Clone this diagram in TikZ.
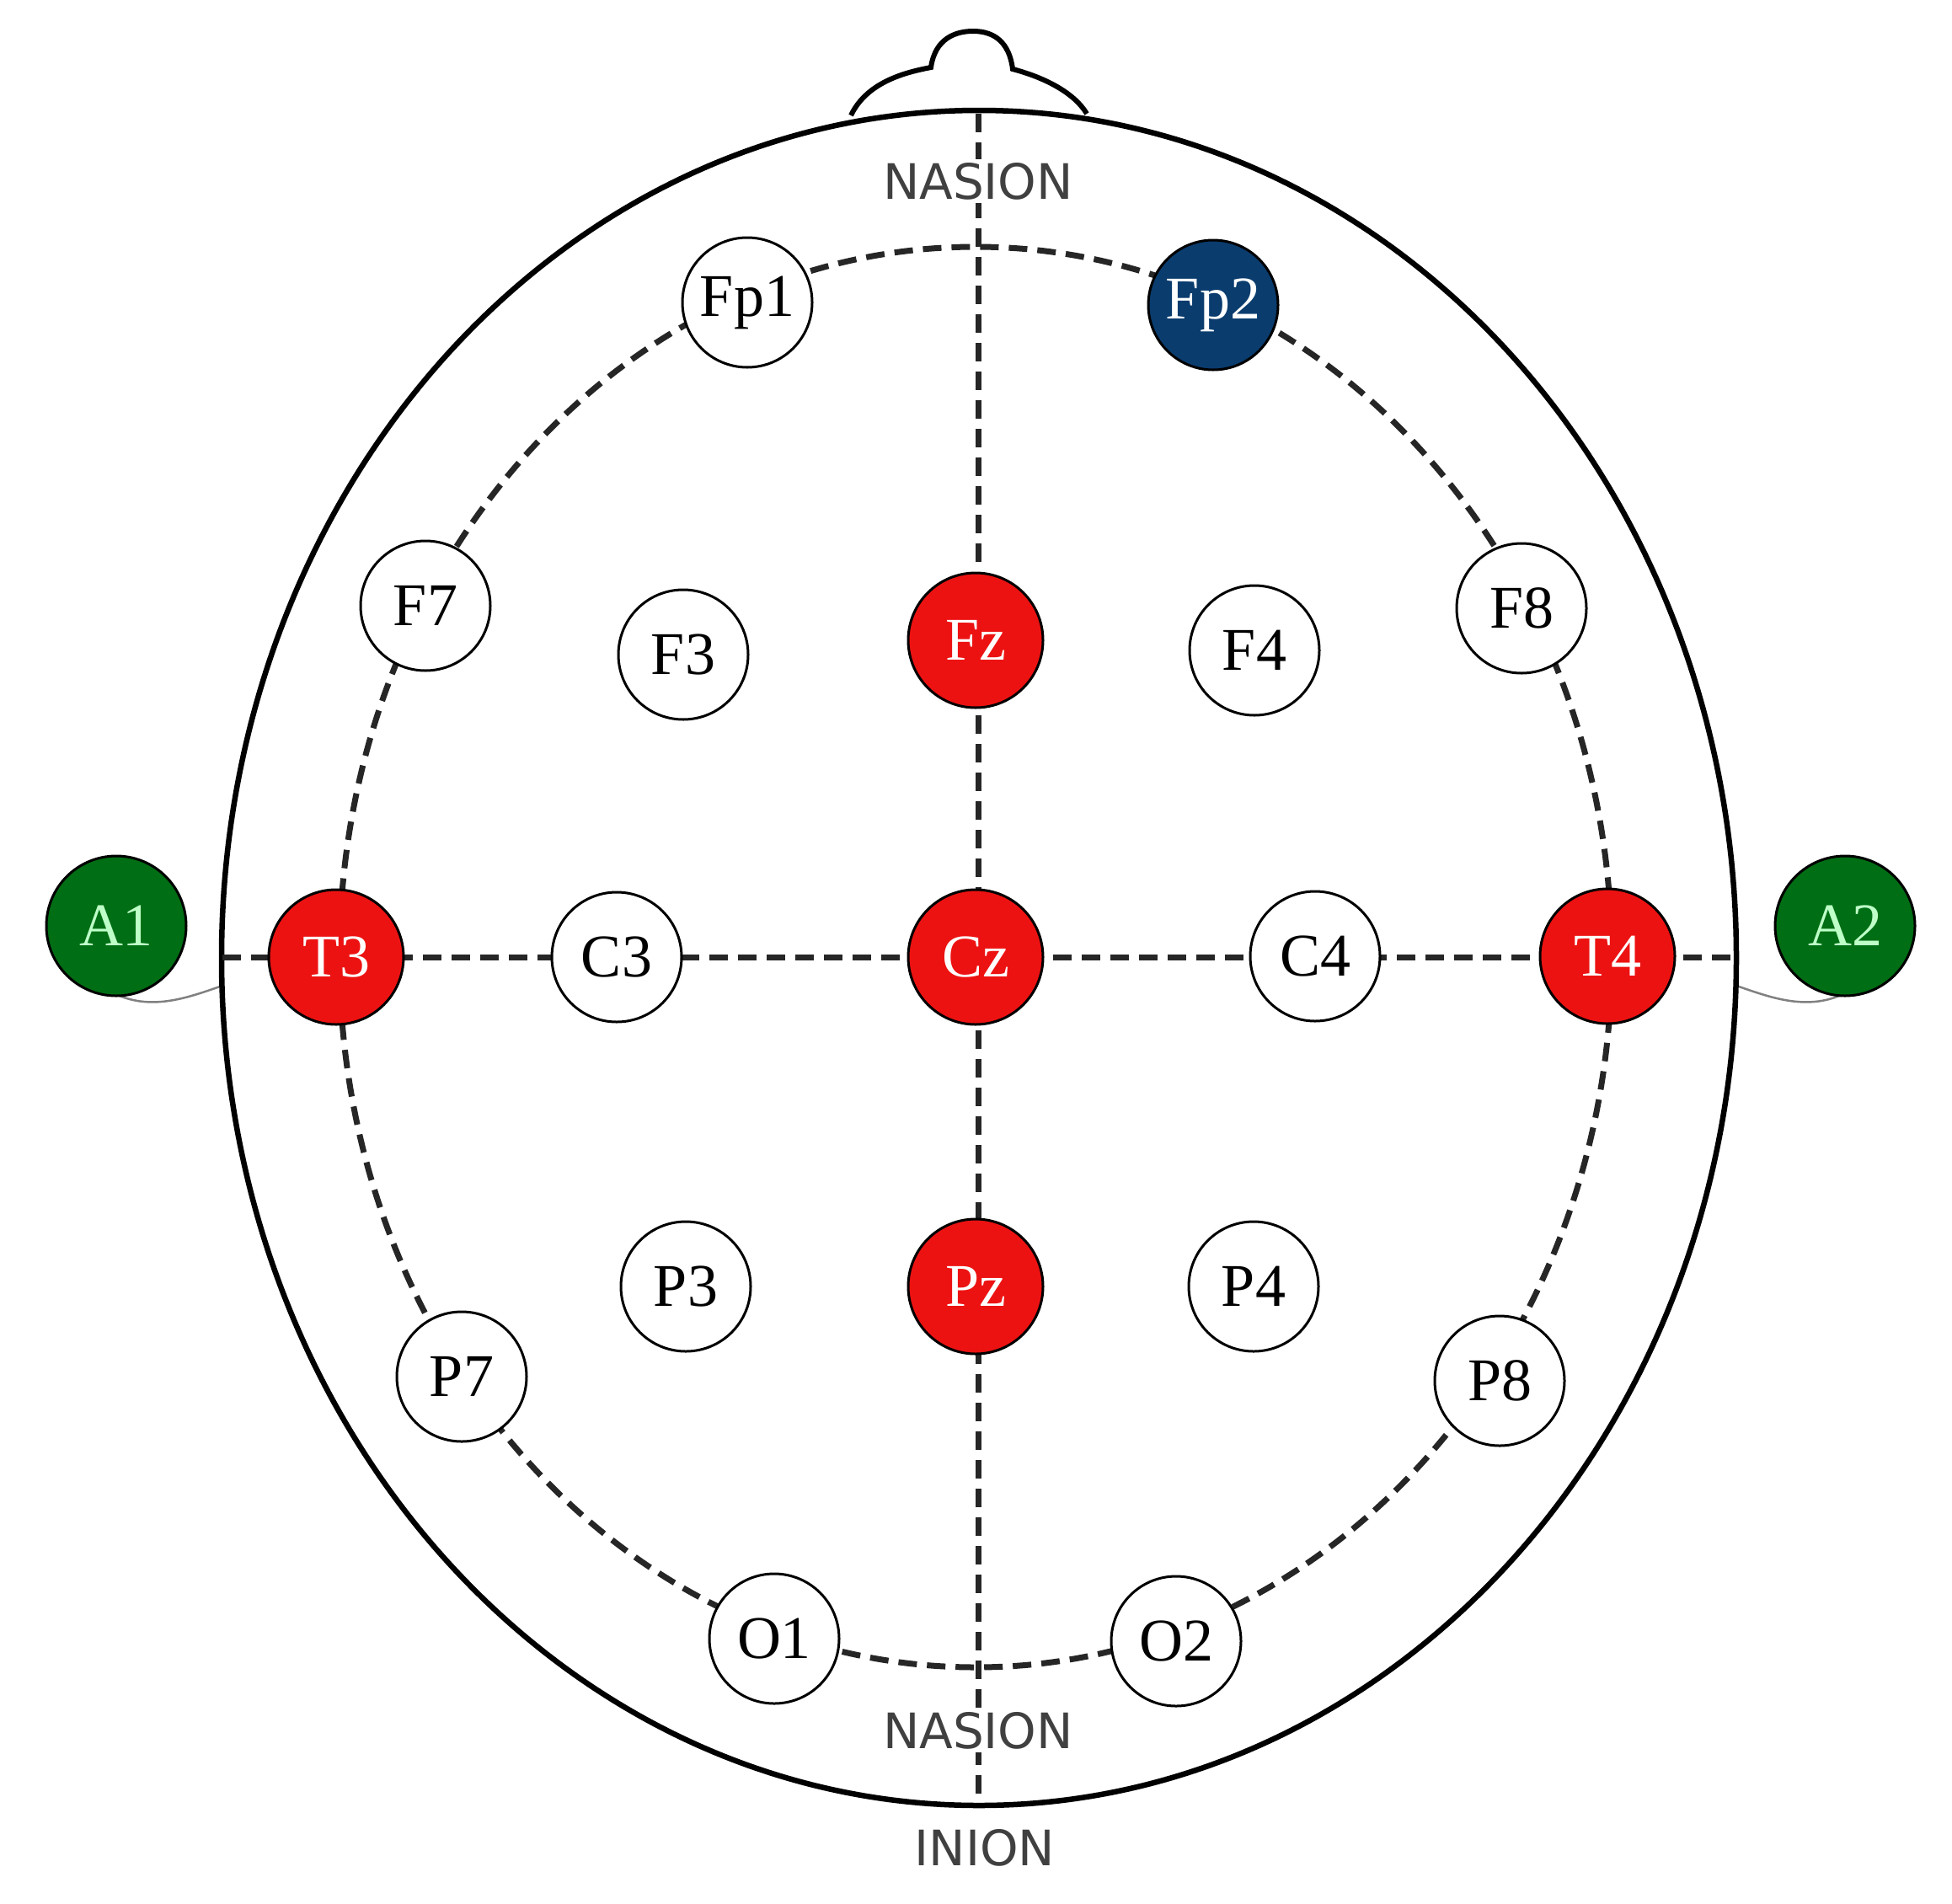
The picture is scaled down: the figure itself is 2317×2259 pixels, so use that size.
\documentclass[tikz,border=0pt]{standalone}
\usepackage{fontspec}
\setmainfont{Liberation Serif}
\newfontfamily\labfont{DejaVu Sans}
\definecolor{ered}{RGB}{237,18,18}
\definecolor{egreen}{RGB}{0,110,20}
\definecolor{eblue}{RGB}{10,60,110}
\definecolor{lgreen}{RGB}{190,255,200}
\tikzset{
 el/.style={circle,draw=black,line width=3pt,fill=white,minimum size=154pt,inner sep=0pt,font=\fontsize{72}{72}\selectfont},
 rel/.style={el,fill=ered,text=white,minimum size=160pt},
 gel/.style={el,fill=egreen,text=lgreen,minimum size=166pt},
 bel/.style={el,fill=eblue,text=white},
 dsh/.style={line width=7pt,dash pattern=on 22pt off 12pt,draw=black!85},
 lab/.style={font=\labfont\fontsize{58}{58}\selectfont,text=black!75,fill=white,inner sep=4pt}
}
\begin{document}
\begin{tikzpicture}[x=1pt,y=-1pt]
\useasboundingbox (0,0) rectangle (2317,2259);
% nose
\draw[line width=6pt,fill=white] (1010,137) .. controls (1030,95) and (1080,85) .. (1105,80) .. controls (1110,45) and (1135,37) .. (1155,37) .. controls (1180,37) and (1198,50) .. (1202,82) .. controls (1240,92) and (1275,110) .. (1290,135);
% ears
\draw[gray,line width=2.5pt] (264,1170) .. controls (220,1185) and (170,1205) .. (120,1170);
\draw[gray,line width=2.5pt] (2061,1170) .. controls (2105,1185) and (2155,1205) .. (2205,1170);
% head
\draw[line width=6.5pt] (1162,1137) ellipse [x radius=899,y radius=1006];
% dashed lines
\draw[dsh] (1158,1136) ellipse [x radius=755,y radius=843];
\draw[dsh] (264,1136) -- (2061,1136);
\coordinate (top) at (1161,135);
\coordinate (bot) at (1161,2140);
\draw[dsh] (top) -- (bot);
\node[lab] (n1) at (1161,215) {NASION};
\node[lab] (n2) at (1161,2054) {NASION};
\node[lab] (in) at (1169,2193) {INION};
% electrodes
\node[el] (Fp1) at (887,359) {Fp1};
\node[bel] (Fp2) at (1440,362) {Fp2};
\node[el] (F7) at (505,719) {F7};
\node[el] (F3) at (811,777) {F3};
\node[rel] (Fz) at (1158,760) {Fz};
\node[el] (F4) at (1489,772) {F4};
\node[el] (F8) at (1806,722) {F8};
\node[gel] (A1) at (138,1099) {A1};
\node[rel] (T3) at (399,1136) {T3};
\node[el] (C3) at (732,1136) {C3};
\node[rel] (Cz) at (1158,1136) {Cz};
\node[el] (C4) at (1561,1135) {C4};
\node[rel] (T4) at (1908,1135) {T4};
\node[gel] (A2) at (2190,1099) {A2};
\node[el] (P7) at (548,1634) {P7};
\node[el] (P3) at (814,1527) {P3};
\node[rel] (Pz) at (1158,1527) {Pz};
\node[el] (P4) at (1488,1527) {P4};
\node[el] (P8) at (1780,1639) {P8};
\node[el] (O1) at (919,1945) {O1};
\node[el] (O2) at (1396,1948) {O2};
\end{tikzpicture}
\end{document}
